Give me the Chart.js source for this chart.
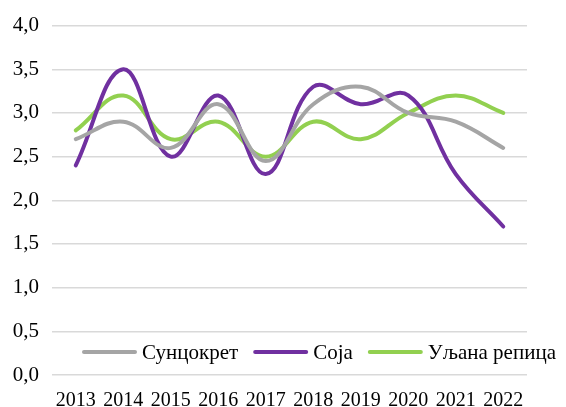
<!DOCTYPE html>
<html lang="sr">
<head>
<meta charset="UTF-8">
<title>Chart</title>
<script src="https://cdn.jsdelivr.net/npm/chart.js@4.4.0/dist/chart.umd.min.js"></script>
<style>
  html, body { margin: 0; padding: 0; background: #fff; }
</style>
</head>
<body>
<canvas id="c" width="566" height="407"></canvas>
<script>
// data
var years = ['2013', '2014', '2015', '2016', '2017', '2018', '2019', '2020', '2021', '2022'];
var suncokret = [2.7, 2.9, 2.6, 3.1, 2.45, 3.1, 3.3, 3.0, 2.9, 2.6];
var soja = [2.4, 3.5, 2.5, 3.2, 2.3, 3.3, 3.1, 3.2, 2.3, 1.7];
var uljanaRepica = [2.8, 3.2, 2.7, 2.9, 2.5, 2.9, 2.7, 3.0, 3.2, 3.0];
var seriesNames = ['Сунцокрет', 'Соја', 'Уљана репица'];
var yTicks = [0, 0.5, 1, 1.5, 2, 2.5, 3, 3.5, 4];

var fontFam = '"Liberation Serif", "DejaVu Serif", serif';

function ds(label, data, color) {
  return {
    label: label,
    data: data,
    borderColor: color,
    backgroundColor: color,
    borderWidth: 4,
    borderCapStyle: 'round',
    pointRadius: 0,
    pointHoverRadius: 0,
    tension: 0.4,
    fill: false
  };
}

// legend drawn inside the plot area, like the original
const insideLegend = {
  id: 'insideLegend',
  afterDraw: chart => {
    const ctx = chart.ctx;
    ctx.save();
    ctx.font = '21px ' + fontFam;
    ctx.textBaseline = 'middle';
    let x = 82;
    const y = 352;
    chart.data.datasets.forEach(function (d) {
      ctx.beginPath();
      ctx.lineCap = 'round';
      ctx.lineWidth = 4;
      ctx.strokeStyle = d.borderColor;
      ctx.moveTo(x + 2, y);
      ctx.lineTo(x + 53, y);
      ctx.stroke();
      x += 60;
      ctx.fillStyle = '#000';
      ctx.fillText(d.label, x, y + 1);
      x += ctx.measureText(d.label).width + 15;
    });
    ctx.restore();
  }
};

Chart.defaults.font.family = fontFam;
Chart.defaults.color = '#000';

new Chart(document.getElementById('c'), {
  type: 'line',
  data: {
    labels: years,
    datasets: [
      ds(seriesNames[0], suncokret, '#A5A5A5'),
      ds(seriesNames[1], soja, '#7030A0'),
      ds(seriesNames[2], uljanaRepica, '#92D050')
    ]
  },
  options: {
    responsive: false,
    animation: false,
    layout: { padding: { top: 21, right: 39, left: 0, bottom: 0 } },
    plugins: {
      legend: { display: false },
      tooltip: { enabled: false }
    },
    scales: {
      x: {
        offset: true,
        grid: { display: false, drawTicks: false },
        border: { display: false },
        ticks: { font: { size: 20 }, padding: 14, maxRotation: 0, autoSkip: false },
        afterFit: s => { s.height = 32; }
      },
      y: {
        min: 0,
        max: 4,
        afterBuildTicks: s => { s.ticks = yTicks.map(v => ({ value: v })); },
        grid: { color: '#D9D9D9', lineWidth: 1.5, drawTicks: false },
        border: { display: false },
        ticks: {
          font: { size: 21 },
          padding: 13,
          callback: v => v.toFixed(1).replace('.', ',')
        },
        afterFit: s => { s.width = 52; }
      }
    }
  },
  plugins: [insideLegend]
});
</script>
</body>
</html>
